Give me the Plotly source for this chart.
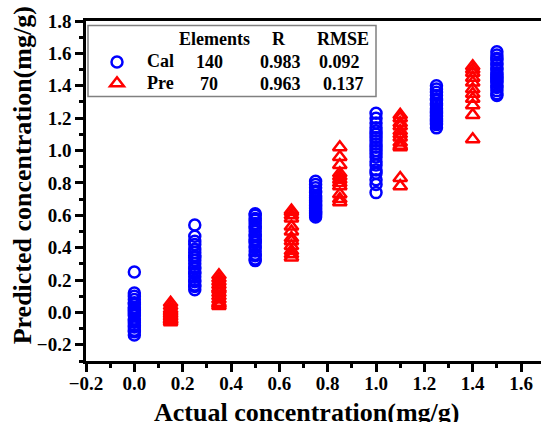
import plotly.graph_objects as go

# ---------------- data ----------------
cal_x = [0.0, 0.25, 0.5, 0.75, 1.0, 1.25, 1.5]
cal_y = [
    [0.25, 0.12, 0.10, 0.08, 0.06, 0.05, 0.03, 0.02, 0.01, 0.00, -0.01, -0.02, -0.04, -0.05, -0.06, -0.08, -0.09, -0.11, -0.12, -0.14],
    [0.54, 0.47, 0.44, 0.42, 0.39, 0.37, 0.35, 0.34, 0.32, 0.30, 0.28, 0.27, 0.25, 0.24, 0.22, 0.20, 0.19, 0.17, 0.16, 0.14],
    [0.61, 0.60, 0.58, 0.57, 0.55, 0.53, 0.52, 0.50, 0.48, 0.47, 0.45, 0.44, 0.43, 0.41, 0.40, 0.38, 0.36, 0.35, 0.33, 0.32],
    [0.81, 0.79, 0.77, 0.75, 0.74, 0.72, 0.71, 0.70, 0.69, 0.68, 0.67, 0.66, 0.65, 0.64, 0.63, 0.62, 0.62, 0.61, 0.60, 0.59],
    [1.23, 1.20, 1.17, 1.14, 1.12, 1.10, 1.08, 1.06, 1.04, 1.02, 1.00, 0.98, 0.96, 0.93, 0.91, 0.88, 0.86, 0.82, 0.79, 0.74],
    [1.40, 1.38, 1.36, 1.34, 1.32, 1.31, 1.29, 1.28, 1.26, 1.25, 1.24, 1.23, 1.22, 1.21, 1.20, 1.19, 1.18, 1.17, 1.16, 1.14],
    [1.61, 1.59, 1.57, 1.56, 1.54, 1.53, 1.51, 1.50, 1.48, 1.47, 1.46, 1.45, 1.44, 1.43, 1.42, 1.40, 1.39, 1.37, 1.35, 1.34],
]
pre_x = [0.15, 0.35, 0.65, 0.85, 1.1, 1.4]
pre_y = [
    [0.06, 0.04, 0.02, 0.01, 0.00, -0.01, -0.02, -0.03, -0.04, -0.05, -0.05, -0.06],
    [0.23, 0.21, 0.19, 0.17, 0.15, 0.14, 0.12, 0.10, 0.08, 0.06, 0.05, 0.04],
    [0.63, 0.62, 0.60, 0.58, 0.53, 0.50, 0.46, 0.44, 0.41, 0.38, 0.36, 0.34],
    [1.02, 0.96, 0.91, 0.86, 0.84, 0.82, 0.80, 0.78, 0.73, 0.70, 0.68],
    [1.22, 1.20, 1.17, 1.15, 1.12, 1.10, 1.08, 1.05, 1.03, 1.02, 0.83, 0.78],
    [1.52, 1.50, 1.48, 1.45, 1.42, 1.38, 1.35, 1.32, 1.28, 1.22, 1.07],
]
table_header = ["Elements", "R", "RMSE"]
table_names = ["Cal", "Pre"]
table_elements = ["140", "70"]
table_r = ["0.983", "0.963"]
table_rmse = ["0.092", "0.137"]

x_title = "Actual concentration(mg/g)"
y_title = "Predicted concentration(mg/g)"

# ---------------- layout helpers ----------------
W, H = 541, 422
PL, PR, PT, PB = 86, 541, 20.6, 360.7
FONT = "Liberation Serif"


def px(x):
    return (x - PL) / (PR - PL)


def py(y):
    return (PB - y) / (PB - PT)


def flat(xs, ys):
    fx, fy = [], []
    for xv, col in zip(xs, ys):
        fx += [xv] * len(col)
        fy += col
    return fx, fy


cx, cy = flat(cal_x, cal_y)
prx, pry = flat(pre_x, pre_y)


def legend_name(s):
    return "<span style='font-size:18px'><b>%s</b></span>" % s


fig = go.Figure()
fig.add_trace(go.Scatter(
    x=cx, y=cy, mode="markers", name=legend_name(table_names[0]),
    marker=dict(symbol="circle-open", size=11, color="#0000ff",
                line=dict(width=2.5, color="#0000ff")),
))
fig.add_trace(go.Scatter(
    x=prx, y=pry, mode="markers", name=legend_name(table_names[1]),
    marker=dict(symbol="triangle-up-open", size=12, color="#ff0000",
                line=dict(width=2.5, color="#ff0000")),
))

axis_common = dict(
    showgrid=False, zeroline=False, showline=True, linecolor="black",
    linewidth=2.5, ticks="outside", ticklen=8, tickwidth=2.5,
    tickcolor="black", dtick=0.2, tickformat=".1f",
    tickfont=dict(family=FONT, size=19, color="black", weight="bold"),
    minor=dict(ticks="outside", ticklen=4, tickwidth=2.5, dtick=0.1,
               tickcolor="black", showgrid=False),
)

fig.update_layout(
    width=W, height=H,
    margin=dict(l=PL, r=W - PR, t=PT, b=H - PB),
    plot_bgcolor="white", paper_bgcolor="white",
    xaxis=dict(range=[-0.2, -0.2 + (PR - PL) / 241.7], mirror=True,
               tick0=0, ticklabelstandoff=-5, **axis_common),
    yaxis=dict(range=[-0.3, 1.8], tick0=0, **axis_common),
    showlegend=True,
    legend=dict(x=px(87), y=py(46), xanchor="left", yanchor="top",
                bgcolor="rgba(0,0,0,0)", borderwidth=0, itemwidth=50,
                font=dict(family=FONT, size=14, color="black"),
                tracegroupgap=0),
)

# legend box
fig.add_shape(type="rect", xref="paper", yref="paper",
              x0=px(88), x1=px(376), y0=py(96), y1=py(25),
              line=dict(color="#808080", width=1.5), fillcolor="rgba(0,0,0,0)")

tfont = dict(family=FONT, size=18, color="black", weight="bold")


def ann(text, x, y, **kw):
    fig.add_annotation(text=text, x=px(x), y=py(y), xref="paper", yref="paper",
                       showarrow=False, font=kw.pop("font", tfont),
                       xanchor="center", yanchor="middle", **kw)


for t, xc in zip(table_header, [214, 279, 343]):
    ann(t, xc, 38.3)
row_y = [61.7, 83.3]
for i in range(2):
    ann(table_elements[i], 209, row_y[i])
    ann(table_r[i], 280, row_y[i])
    ann(table_rmse[i], [339, 343][i], row_y[i])

title_font = dict(family=FONT, size=26, color="black", weight="bold")
ann(x_title, 306, 412, font=title_font)
ann(y_title, 22, 175, font=title_font, textangle=-90)

fig.write_html("out.html", config={"displayModeBar": False},
               post_script="document.body.style.margin='0';")
